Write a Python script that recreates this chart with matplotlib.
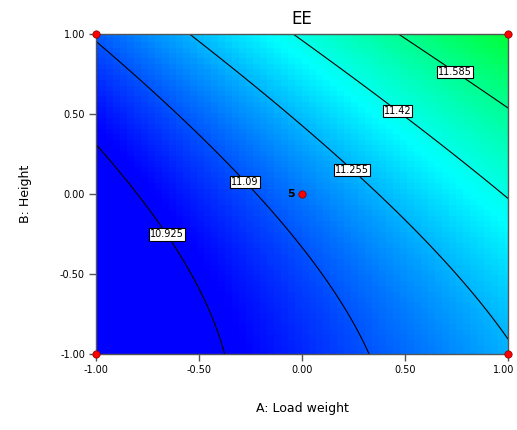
import numpy as np
import matplotlib
matplotlib.use("Agg")
import matplotlib.pyplot as plt
from matplotlib.colors import LinearSegmentedColormap
from matplotlib.transforms import ScaledTranslation

# fitted response surface (coded factors): EE = b0 + a*A + b*B + c*AB + d*A^2 + e*B^2
coef_names = ["b0", "A", "B", "AB", "A2", "B2"]
coef_vals = [11.152, 0.28, 0.21, 0.045, -0.005, 0.072]

levels = [10.925, 11.09, 11.255, 11.42, 11.585]
label_pos = [(-0.63, -0.23), (-0.27, 0.085), (0.25, 0.16), (0.47, 0.53), (0.76, 0.80)]

# design points
pts_x = [-1, -1, 1, 1, 0]
pts_y = [-1, 1, -1, 1, 0]

ticks = [-1.0, -0.5, 0.0, 0.5, 1.0]
tick_labels = ["-1.00", "-0.50", "0.00", "0.50", "1.00"]

c = dict(zip(coef_names, coef_vals))


def surface(n):
    A, B = np.meshgrid(np.linspace(-1, 1, n), np.linspace(-1, 1, n))
    Z = (c["b0"] + c["A"] * A + c["B"] * B + c["AB"] * A * B
         + c["A2"] * A ** 2 + c["B2"] * B ** 2)
    return A, B, Z


zmin, zmax = 10.774, 11.76
pos = lambda v: (v - zmin) / (zmax - zmin)
cmap = LinearSegmentedColormap.from_list(
    "de", [(0.0, (0, 0, 1)), (pos(10.95), (0, 0, 1)),
           (pos(11.38), (0, 1, 1)), (1.0, (0, 1, 0.2))])

fig = plt.figure(figsize=(5.17, 4.30), dpi=100)
ax = fig.add_axes([0.1857, 0.1767, 0.7969, 0.7442])

A, B, Z = surface(60)
ax.pcolormesh(A, B, Z, cmap=cmap, vmin=zmin, vmax=zmax, shading="nearest")
A, B, Z = surface(300)
cs = ax.contour(A, B, Z, levels=levels, colors="black", linewidths=0.8)
lbls = ax.clabel(cs, inline=False, fontsize=7, manual=label_pos, fmt=lambda v: f"{v:g}")
for t in lbls:
    t.set_rotation(0)
    t.set_bbox(dict(facecolor="white", edgecolor="black", pad=0.8, linewidth=0.8))

ax.scatter(pts_x, pts_y, s=28, color="red", edgecolors="#800000", linewidths=0.5,
           zorder=5, clip_on=False)
ax.text(-0.035, 0.0, "5", ha="right", va="center", fontsize=8, fontweight="bold")

ax.set_xlim(-1, 1)
ax.set_ylim(-1, 1)
ax.set_xticks(ticks)
ax.set_xticklabels(tick_labels, fontsize=7)
ax.set_yticks(ticks)
ax.set_yticklabels(tick_labels, fontsize=7)
ax.tick_params(direction="out", length=5, width=1, color="#555555", pad=3)
for s in ax.spines.values():
    s.set_color("#555555")
    s.set_linewidth(1)

# last x tick label sits at the figure edge, nudge it inside
last = ax.get_xticklabels()[-1]
last.set_transform(last.get_transform() + ScaledTranslation(-4 / 100, 0, fig.dpi_scale_trans))

ax.set_title("EE", fontsize=12, pad=7)
ax.set_xlabel("A: Load weight", fontsize=9, labelpad=19)
ax.set_ylabel("B: Height", fontsize=9, labelpad=20)

fig.savefig("out.png", dpi=100)
